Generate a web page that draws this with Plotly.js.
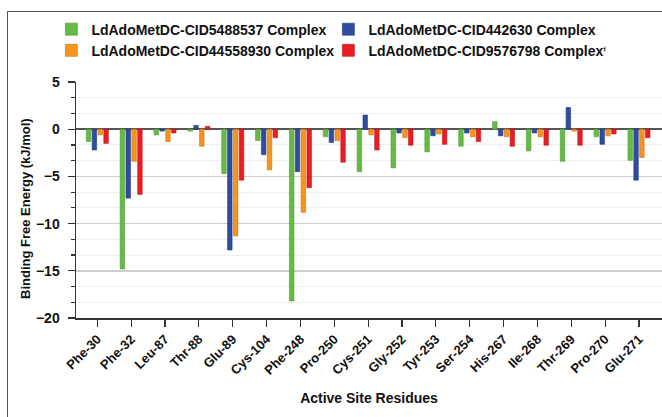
<!DOCTYPE html>
<html>
<head>
<meta charset="utf-8">
<script src="https://cdn.plot.ly/plotly-3.0.1.min.js"></script>
<style>
html,body{margin:0;padding:0;background:#fff;}
#wrap{position:relative;width:662px;height:417px;overflow:hidden;}
#chart{position:absolute;left:0;top:0;width:662px;height:417px;}
#frame{position:absolute;left:7px;top:11px;width:700px;height:500px;border-left:1.5px solid #555;border-top:1.5px solid #555;pointer-events:none;}
</style>
</head>
<body>
<div id="wrap"><div id="chart"></div><div id="frame"></div></div>
<script>
var residues = ['Phe-30','Phe-32','Leu-87','Thr-88','Glu-89','Cys-104','Phe-248','Pro-250','Cys-251','Gly-252','Tyr-253','Ser-254','His-267','Ile-268','Thr-269','Pro-270','Glu-271'];
var cid5488537  = [-1.3, -14.8, -0.6, -0.2, -4.7, -1.2, -18.2, -0.8, -4.5, -4.1, -2.4, -1.8, 0.8, -2.3, -3.4, -0.8, -3.3];
var cid442630   = [-2.2, -7.3, -0.2, 0.4, -12.8, -2.7, -4.5, -1.4, 1.5, -0.4, -0.7, -0.4, -0.7, -0.4, 2.3, -1.6, -5.4];
var cid44558930 = [-0.6, -3.4, -1.3, -1.8, -11.3, -4.3, -8.8, -1.2, -0.6, -0.9, -0.5, -0.8, -0.8, -0.8, -0.2, -0.7, -3.0];
var cid9576798  = [-1.5, -6.9, -0.4, 0.3, -5.4, -0.9, -6.2, -3.5, -2.2, -1.7, -1.6, -1.3, -1.8, -1.7, -1.7, -0.5, -0.9];
var seriesNames = ['LdAdoMetDC-CID5488537 Complex','LdAdoMetDC-CID442630 Complex','LdAdoMetDC-CID44558930 Complex','LdAdoMetDC-CID9576798 Complex*'];
var seriesColors = ['#66bb46','#2f4c9f','#f7941e','#ec1c24'];
var seriesLines = ['#4e9a33','#223a80','#c9741a','#b8151b'];
var seriesValues = [cid5488537, cid442630, cid44558930, cid9576798];
var yTickVals = [5, 0, -5, -10, -15, -20];
var yTitle = 'Binding Free Energy (kJ/mol)';
var xTitle = 'Active Site Residues';

var traces = seriesValues.map(function(v, i){
  return {type:'bar', x:residues, y:v, name:seriesNames[i],
    marker:{color:seriesColors[i], line:{color:seriesLines[i], width:0.6}}};
});
var tickIdx = residues.map(function(r, i){ return i; });
var xr = [-0.63, 16.68];
var f = 'Liberation Sans, Arial, Helvetica, sans-serif';

var layout = {
  width:662, height:417,
  margin:{l:76, r:0, t:82, b:99},
  paper_bgcolor:'#fff', plot_bgcolor:'#fff',
  barmode:'group', bargap:0.31, bargroupgap:0.23,
  font:{family:f, color:'#111'},
  showlegend:true,
  legend:{orientation:'h', x:-0.042, xanchor:'left', y:1.29, yanchor:'top',
    entrywidth:232, entrywidthmode:'pixels', traceorder:'normal',
    font:{family:f, size:14, color:'#111', weight:'bold'}, bgcolor:'rgba(0,0,0,0)'},
  xaxis:{type:'category', range:xr, showgrid:false, zeroline:false,
    showline:true, linecolor:'#333', linewidth:1.5,
    ticks:'outside', ticklen:7, tickwidth:1.2, tickcolor:'#333',
    tickangle:-45, tickfont:{family:f, size:13, color:'#111', weight:'bold'},
    title:{text:xTitle, font:{family:f, size:14, color:'#111', weight:'bold'}, standoff:16}},
  yaxis:{range:[-20,5], tickmode:'array', tickvals:yTickVals,
    showline:true, linecolor:'#333', linewidth:1.5,
    ticks:'outside', ticklen:7, tickwidth:1.2, tickcolor:'#333',
    showgrid:true, gridcolor:'#cfcfcf', gridwidth:1.5,
    zeroline:true, zerolinecolor:'#555', zerolinewidth:1.5,
    ticklabelstandoff:5,
    tickfont:{family:f, size:14, color:'#111', weight:'bold'},
    minor:{dtick:5/3, tick0:0, ticks:'outside', ticklen:3.5, tickwidth:1.2, tickcolor:'#333', showgrid:true, gridcolor:'#efefef', gridwidth:1}},
  xaxis2:{overlaying:'x', anchor:'y', type:'linear', range:xr, tickmode:'array', tickvals:tickIdx,
    ticks:'inside', ticklen:7, tickwidth:1.2, tickcolor:'#333', showticklabels:false,
    showgrid:false, zeroline:false, showline:false},
  yaxis2:{overlaying:'y', anchor:'x', side:'left', range:[-20,5], tickmode:'array', tickvals:yTickVals,
    ticks:'inside', ticklen:7, tickwidth:1.2, tickcolor:'#333', showticklabels:false,
    showgrid:false, zeroline:false, showline:false,
    minor:{dtick:5/3, tick0:0, ticks:'inside', ticklen:3.5, tickwidth:1.2, tickcolor:'#333', showgrid:false}},
  annotations:[{text:yTitle, xref:'paper', yref:'paper', x:-0.0853, y:0.462, xanchor:'center', yanchor:'middle',
    textangle:-90, showarrow:false, font:{family:f, size:13, color:'#111', weight:'bold'}}]
};
Plotly.newPlot('chart', traces, layout, {displayModeBar:false, staticPlot:true});
</script>
</body>
</html>
